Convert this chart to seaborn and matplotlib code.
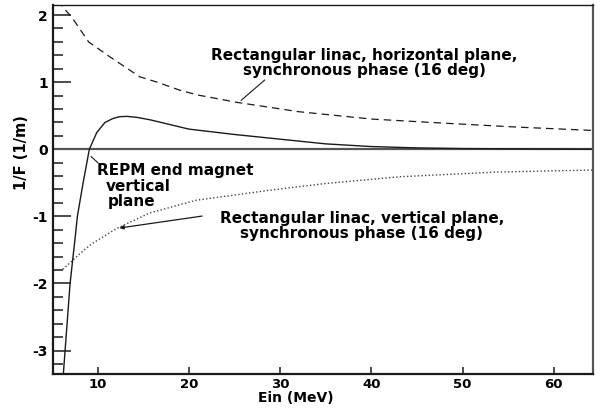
import numpy as np
import pandas as pd
import matplotlib
matplotlib.use("Agg")
import matplotlib.pyplot as plt
from matplotlib.ticker import MultipleLocator
import seaborn as sns

# ---- data ----
e_horiz = [5.6, 6.1, 7.2, 9.0, 11.3, 14.6, 16.5, 19.0, 20.9, 25.2, 32.0, 40.0, 47.8, 56.0, 64.3]
f_horiz = [2.22, 2.13, 1.96, 1.60, 1.38, 1.08, 1.00, 0.88, 0.81, 0.70, 0.56, 0.45, 0.39, 0.33, 0.28]

e_vert = [6.17, 8.1, 9.34, 12.1, 15.7, 20.8, 28.9, 35.0, 43.1, 53.7, 64.3]
f_vert = [-1.79, -1.55, -1.41, -1.18, -0.95, -0.76, -0.61, -0.51, -0.41, -0.34, -0.31]

e_repm = [6.15, 6.42, 6.97, 7.5, 7.77, 8.4, 9.08, 9.9, 10.8, 11.7, 12.4, 13.2, 14.3, 15.7, 20.0, 25.0, 30.0, 35.0, 40.0, 45.0, 50.0, 64.3]
f_repm = [-3.5, -3.0, -2.0, -1.35, -1.0, -0.5, 0.0, 0.25, 0.40, 0.46, 0.485, 0.49, 0.475, 0.44, 0.30, 0.22, 0.15, 0.08, 0.04, 0.02, 0.01, 0.0]

y_ticks = [-3, -2, -1, 0, 1, 2]
x_ticks = [10, 20, 30, 40, 50, 60]

sns.set_style("white")
plt.rcParams["font.family"] = ["DejaVu Sans"]
plt.rcParams["font.weight"] = "bold"
plt.rcParams["axes.unicode_minus"] = False
plt.rcParams["text.color"] = "black"
plt.rcParams["axes.labelcolor"] = "black"
plt.rcParams["xtick.labelcolor"] = "black"
plt.rcParams["ytick.labelcolor"] = "black"

fig = plt.figure(figsize=(6.03, 4.12), dpi=100)
ax = fig.add_axes([0.0884, 0.0922, 0.8950, 0.8957])

dark = "#1a1a1a"
ax.axhline(0, color="#555555", lw=1.6, zorder=1)

sns.lineplot(x=e_horiz, y=f_horiz, ax=ax, color=dark, lw=0.9, linestyle=(0, (6, 4)), sort=False)
sns.lineplot(x=e_vert, y=f_vert, ax=ax, color="#444444", lw=1.0, linestyle=(0, (1, 1.6)), sort=False)
sns.lineplot(x=e_repm, y=f_repm, ax=ax, color=dark, lw=1.0, sort=False)

ax.set_xlim(5.13, 64.3)
ax.set_ylim(-3.35, 2.15)
ax.set_xticks(x_ticks)
ax.set_yticks(y_ticks)
ax.yaxis.set_minor_locator(MultipleLocator(0.2))
ax.tick_params(axis="y", which="major", direction="in", length=13, width=1.1, color=dark, pad=4,
               labelsize=10, left=True, labelcolor="black")
ax.tick_params(axis="y", which="minor", direction="in", length=7, width=1.1, color=dark, left=True)
ax.tick_params(axis="x", which="major", direction="in", length=5, width=1.1, color=dark, pad=3,
               labelsize=9.5, bottom=True, labelcolor="black")
for lab in ax.get_xticklabels() + ax.get_yticklabels():
    lab.set_fontweight("bold")

for side in ["left", "bottom"]:
    ax.spines[side].set_color(dark)
    ax.spines[side].set_linewidth(1.6)
ax.spines["right"].set_color("#555555")
ax.spines["right"].set_linewidth(1.6)
ax.spines["top"].set_color(dark)
ax.spines["top"].set_linewidth(1.0)

ax.set_xlabel("Ein (MeV)", fontsize=10, fontweight="bold", color="black")
ax.xaxis.set_label_coords(0.45, -0.047)
ax.set_ylabel("1/F (1/m)", fontsize=10.5, fontweight="bold", color="black")
ax.yaxis.set_label_coords(-0.045, 0.6)

fs = 11
ax.text(39.2, 1.29, "Rectangular linac, horizontal plane,\nsynchronous phase (16 deg)",
        ha="center", va="center", fontsize=fs, fontweight="bold", linespacing=1.0, color="black")
ax.annotate("", xy=(25.48, 0.70), xytext=(28.55, 1.06),
            arrowprops=dict(arrowstyle="-", color=dark, lw=0.8))

ax.text(9.9, -0.21, "REPM end magnet", ha="left", va="top", fontsize=fs, fontweight="bold", color="black")
ax.text(10.9, -0.45, "vertical", ha="left", va="top", fontsize=fs, fontweight="bold", color="black")
ax.text(11.1, -0.67, "plane", ha="left", va="top", fontsize=fs, fontweight="bold", color="black")
ax.annotate("", xy=(9.04, -0.08), xytext=(10.25, -0.23),
            arrowprops=dict(arrowstyle="-", color=dark, lw=0.8))

ax.text(38.96, -1.14, "Rectangular linac, vertical plane,\nsynchronous phase (16 deg)",
        ha="center", va="center", fontsize=fs, fontweight="bold", linespacing=1.0, color="black")
ax.annotate("", xy=(12.08, -1.18), xytext=(21.75, -0.99),
            arrowprops=dict(arrowstyle="-|>", color=dark, lw=0.9, mutation_scale=6))

fig.savefig("out.png", dpi=100)
